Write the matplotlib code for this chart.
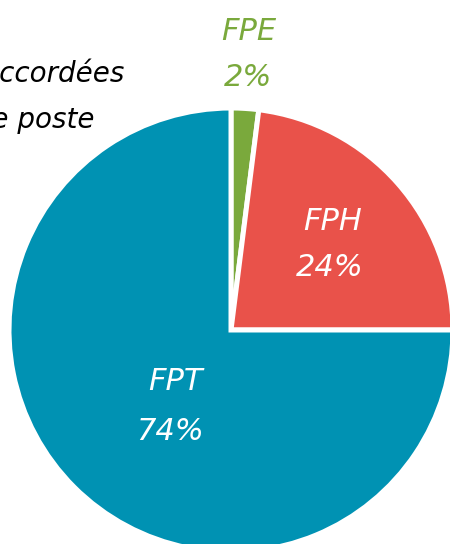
import matplotlib
matplotlib.use("Agg")
import matplotlib.pyplot as plt

# ── Data ─────────────────────────────────────────────────────────────────────
categories = ["FPE", "FPH", "FPT"]
shares     = [2.0, 23.0, 75.0]          # slice sizes as drawn
pct_labels = ["2%", "24%", "74%"]       # labels printed on the chart
colors     = ["#7aa93c", "#e9524a", "#0092b3"]

W, H = 450, 544

fig = plt.figure(figsize=(W / 100, H / 100), dpi=100)
ax = fig.add_axes([0, 0, 1, 1])

cx, cy, r = 231, H - 330, 222
ax.pie(shares, colors=colors, startangle=90, counterclock=False,
       center=(cx, cy), radius=r, frame=True,
       wedgeprops=dict(edgecolor="white", linewidth=3.6))
ax.set_xlim(0, W)
ax.set_ylim(0, H)
ax.set_aspect("equal")
ax.axis("off")

font = dict(family="DejaVu Sans", style="italic", fontsize=22, ha="center", va="center")

# FPE outside, green
ax.text(249, H - 32, categories[0], color=colors[0], **font)
ax.text(248, H - 78, pct_labels[0], color=colors[0], **font)
# FPH inside, white
ax.text(333, H - 222, categories[1], color="white", **font)
ax.text(330, H - 268, pct_labels[1], color="white", **font)
# FPT inside, white
ax.text(175, H - 382, categories[2], color="white", **font)
ax.text(170, H - 432, pct_labels[2], color="white", **font)

# title, cropped on the left as in the source
ttl = dict(family="DejaVu Sans", style="italic", fontsize=20, color="black",
           ha="right", va="center")
ax.text(124, H - 74, "Mutations accordées", **ttl)
ax.text(95, H - 120, "par type de poste", **ttl)

fig.savefig("out.png", dpi=100)
